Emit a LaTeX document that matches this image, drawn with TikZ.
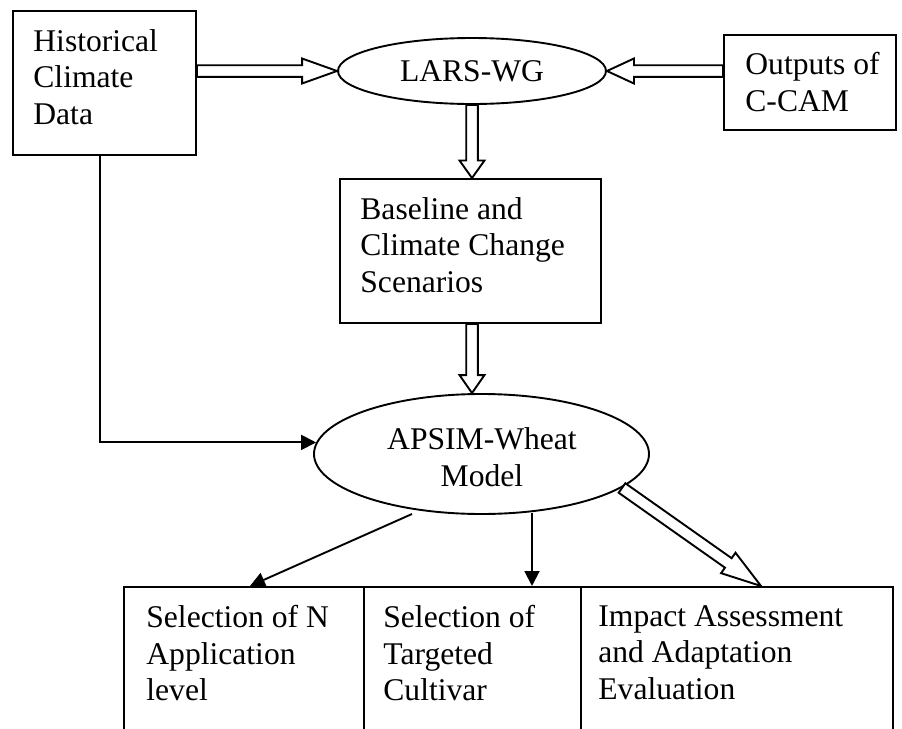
\documentclass[tikz,border=0pt]{standalone}
\usepackage{fontspec}
\setmainfont{Liberation Serif}
\usetikzlibrary{calc,arrows.meta,shapes.geometric}
\newcommand\blockarrow[3]{%
  \path ($(#3)!#1!(#2)$) coordinate (bac);
  \draw[blockarr] ($(#2)!2.9pt!90:(#3)$) -- ($(bac)!2.9pt!90:(#3)$) -- ($(bac)!6.25pt!90:(#3)$) -- (#3)
    -- ($(bac)!6.25pt!-90:(#3)$) -- ($(bac)!2.9pt!-90:(#3)$) -- ($(#2)!2.9pt!-90:(#3)$) -- cycle;
}
\tikzset{
  box/.style={draw, line width=0.95pt, rectangle, inner sep=0pt, anchor=north west},
  lbl/.style={inner sep=0pt, anchor=north west, align=left, font=\fontsize{15.8}{18.3}\selectfont},
  oval/.style={draw, ellipse, line width=0.95pt, inner sep=0pt, align=center, font=\fontsize{15.8}{18.5}\selectfont},
  thinarr/.style={line width=0.95pt, -{Triangle[length=7.5pt,width=7.5pt]}},
  blockarr/.style={line width=0.95pt, fill=white, line join=miter},
}
\begin{document}
\begin{tikzpicture}[x=0.5pt,y=-0.5pt]
\useasboundingbox (0,0) rectangle (902,729);
\clip (0,0) rectangle (902,729);
% boxes
\node[box, minimum width=91.5pt, minimum height=72pt] (hist) at (12,10) {};
\node[box, minimum width=86pt, minimum height=47.5pt] (ccam) at (723,34) {};
\node[box, minimum width=130.5pt, minimum height=72pt] (base) at (339,178) {};
\node[box, minimum width=120pt, minimum height=77pt] (b1) at (123,586) {};
\node[box, minimum width=108.5pt, minimum height=77pt] (b2) at (363,586) {};
\node[box, minimum width=156pt, minimum height=77pt] (b3) at (580,586) {};
% ellipses
\node[oval, minimum width=134pt, minimum height=33pt] (lars) at (472,71) {LARS-WG};
\node[oval, minimum width=167.5pt, minimum height=60pt] (apsim) at (481.5,454) {};
\node[inner sep=0pt, align=center, font=\fontsize{15.8}{18.5}\selectfont] (apsimt) at (482,457) {APSIM-Wheat\\Model};
% texts
\node[lbl] (histt) at (33,29) {Historical\\Climate\\Data};
\node[lbl] (ccamt) at (745,52) {Outputs of\\C-CAM};
\node[lbl] (baset) at (360,197) {Baseline and\\Climate Change\\Scenarios};
\node[lbl] (b1t) at (146,605) {Selection of N\\Application\\level};
\node[lbl] (b2t) at (383,605) {Selection of\\Targeted\\Cultivar};
\node[lbl] (b3t) at (598,605) {Impact Assessment\\and Adaptation\\Evaluation};
% block arrows
\coordinate (a1s) at (hist.east |- lars.west);
\coordinate (a2s) at (ccam.west |- lars.east);
\coordinate (a3e) at (lars.south |- base.north);
\coordinate (a4s) at (lars.south |- base.south);
\coordinate (a4e) at (lars.south |- apsim.north);
\coordinate (a8s) at (622,488);
\coordinate (a8e) at (761,586);
\blockarrow{17.5pt}{a1s}{lars.west}
\blockarrow{13.5pt}{a2s}{lars.east}
\blockarrow{8.75pt}{lars.south}{a3e}
\blockarrow{9pt}{a4s}{a4e}
\blockarrow{20pt}{a8s}{a8e}
% thin arrows
\draw[thinarr] ([xshift=-2.25pt]hist.south) |- (apsim.176);
\coordinate (s6) at (412,514);
\coordinate (e6) at (250,586);
\draw[thinarr] (s6) -- (e6);
\coordinate (s7) at (532,513);
\draw[thinarr] (s7) -- (s7 |- b2.north);
\end{tikzpicture}
\end{document}
